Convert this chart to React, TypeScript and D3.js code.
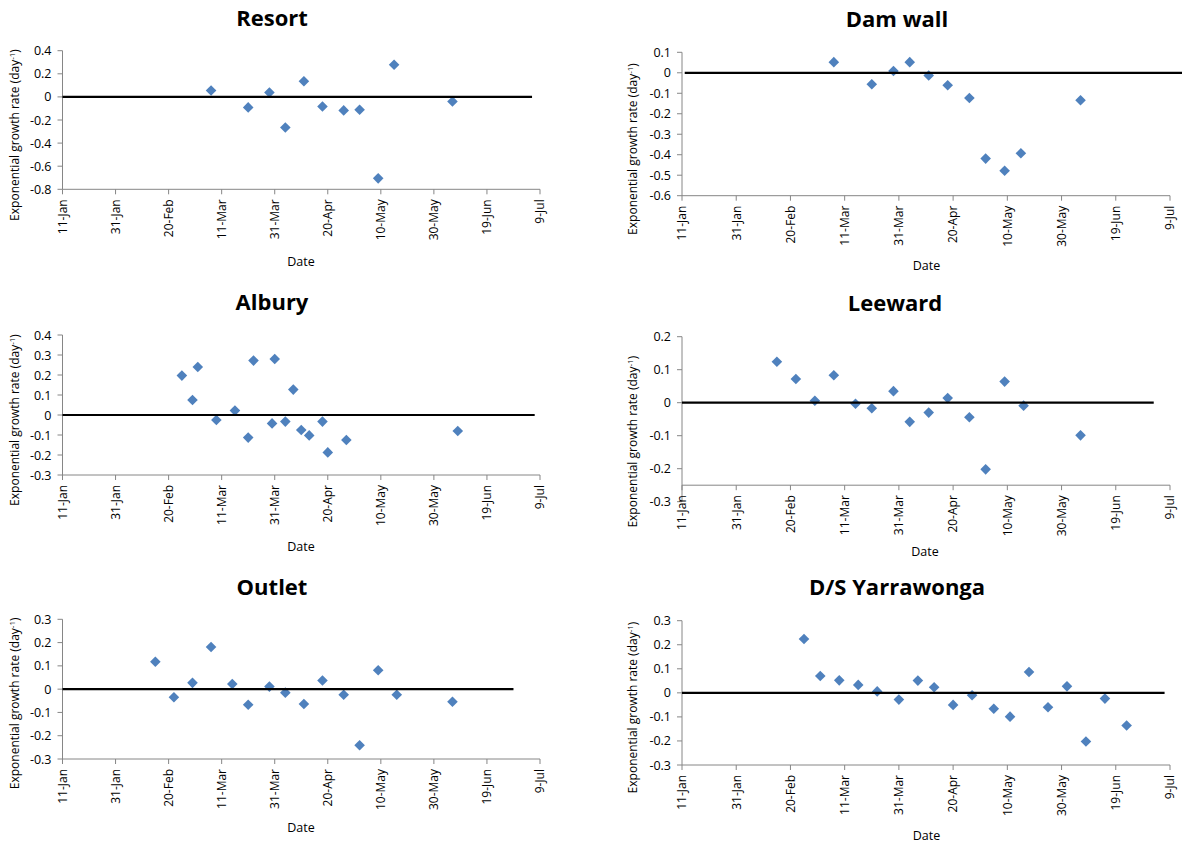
import React from "react";
import * as d3 from "d3";

const parse = d3.utcParse("%Y-%m-%d");

// Shared date axis
const xDomain = ["2008-01-11", "2008-07-09"];
const xTickDates = ["2008-01-11", "2008-01-31", "2008-02-20", "2008-03-11", "2008-03-31", "2008-04-20", "2008-05-10", "2008-05-30", "2008-06-19", "2008-07-09"];
const xTickLabels = ["11-Jan", "31-Jan", "20-Feb", "11-Mar", "31-Mar", "20-Apr", "10-May", "30-May", "19-Jun", "9-Jul"];

// Resort
const resortDates = ["2008-03-07", "2008-03-21", "2008-03-29", "2008-04-04", "2008-04-11", "2008-04-18", "2008-04-26", "2008-05-02", "2008-05-09", "2008-05-15", "2008-06-06"];
const resortRates = [0.055, -0.091, 0.038, -0.265, 0.135, -0.083, -0.117, -0.111, -0.705, 0.278, -0.04];
const resortYTicks = [0.4, 0.2, 0, -0.2, -0.4, -0.6, -0.8];
const resortZeroLine = ["2008-01-11", "2008-07-06"];

// Dam wall
const damDates = ["2008-03-07", "2008-03-21", "2008-03-29", "2008-04-04", "2008-04-11", "2008-04-18", "2008-04-26", "2008-05-02", "2008-05-09", "2008-05-15", "2008-06-06"];
const damRates = [0.052, -0.056, 0.009, 0.052, -0.013, -0.061, -0.123, -0.419, -0.478, -0.393, -0.134];
const damYTicks = [0.1, 0, -0.1, -0.2, -0.3, -0.4, -0.5, -0.6];
const damZeroLine = ["2008-01-12", "2008-07-16"];

// Albury
const alburyDates = ["2008-02-25", "2008-02-29", "2008-03-02", "2008-03-09", "2008-03-16", "2008-03-21", "2008-03-23", "2008-03-30", "2008-03-31", "2008-04-04", "2008-04-07", "2008-04-10", "2008-04-13", "2008-04-18", "2008-04-20", "2008-04-27", "2008-06-08"];
const alburyRates = [0.197, 0.075, 0.24, -0.025, 0.022, -0.113, 0.272, -0.042, 0.28, -0.033, 0.127, -0.075, -0.102, -0.033, -0.187, -0.125, -0.08];
const alburyYTicks = [0.4, 0.3, 0.2, 0.1, 0, -0.1, -0.2, -0.3];
const alburyZeroLine = ["2008-01-11", "2008-07-07"];

// Leeward
const leewardDates = ["2008-02-15", "2008-02-22", "2008-02-29", "2008-03-07", "2008-03-15", "2008-03-21", "2008-03-29", "2008-04-04", "2008-04-11", "2008-04-18", "2008-04-26", "2008-05-02", "2008-05-09", "2008-05-16", "2008-06-06"];
const leewardRates = [0.124, 0.072, 0.006, 0.083, -0.003, -0.017, 0.035, -0.058, -0.03, 0.014, -0.044, -0.202, 0.064, -0.009, -0.099];
const leewardYTicks = [0.2, 0.1, 0, -0.1, -0.2, -0.3];
const leewardZeroLine = ["2008-01-11", "2008-07-03"];

// Outlet
const outletDates = ["2008-02-15", "2008-02-22", "2008-02-29", "2008-03-07", "2008-03-15", "2008-03-21", "2008-03-29", "2008-04-04", "2008-04-11", "2008-04-18", "2008-04-26", "2008-05-02", "2008-05-09", "2008-05-16", "2008-06-06"];
const outletRates = [0.118, -0.035, 0.027, 0.181, 0.022, -0.067, 0.011, -0.015, -0.064, 0.037, -0.024, -0.241, 0.081, -0.024, -0.054];
const outletYTicks = [0.3, 0.2, 0.1, 0, -0.1, -0.2, -0.3];
const outletZeroLine = ["2008-01-11", "2008-06-29"];

// D/S Yarrawonga
const dsDates = ["2008-02-25", "2008-03-02", "2008-03-09", "2008-03-16", "2008-03-23", "2008-03-31", "2008-04-07", "2008-04-13", "2008-04-20", "2008-04-27", "2008-05-05", "2008-05-11", "2008-05-18", "2008-05-25", "2008-06-01", "2008-06-08", "2008-06-15", "2008-06-23"];
const dsRates = [0.224, 0.07, 0.052, 0.033, 0.006, -0.028, 0.051, 0.023, -0.05, -0.01, -0.066, -0.099, 0.087, -0.06, 0.027, -0.202, -0.024, -0.136];
const dsYTicks = [0.3, 0.2, 0.1, 0, -0.1, -0.2, -0.3];
const dsZeroLine = ["2008-01-11", "2008-07-07"];

const FONT = "'Open Sans', Lato, sans-serif";
const AXIS_COLOR = "#868686";
const MARKER_COLOR = "#4F81BD";

type PanelSpec = {
  title: string;
  dates: string[];
  rates: number[];
  yTicks: number[];
  zeroLine: string[];
  cross: number;
  layout: {
    x0: number; x1: number; yTop: number; yBottom: number;
    titleX: number; titleY: number; yTitleX: number; yTitleY: number; dateX: number; dateY: number;
  };
};

const panels: PanelSpec[] = [
  {
    title: "Resort", dates: resortDates, rates: resortRates, yTicks: resortYTicks, zeroLine: resortZeroLine, cross: -0.8,
    layout: { x0: 62.5, x1: 540, yTop: 50.7, yBottom: 189.3, titleX: 272, titleY: 26, yTitleX: 15, yTitleY: 135, dateX: 301, dateY: 266 },
  },
  {
    title: "Dam wall", dates: damDates, rates: damRates, yTicks: damYTicks, zeroLine: damZeroLine, cross: -0.6,
    layout: { x0: 682, x1: 1170, yTop: 52.3, yBottom: 195.7, titleX: 897, titleY: 26.5, yTitleX: 633, yTitleY: 149, dateX: 926.5, dateY: 270 },
  },
  {
    title: "Albury", dates: alburyDates, rates: alburyRates, yTicks: alburyYTicks, zeroLine: alburyZeroLine, cross: -0.3,
    layout: { x0: 62.5, x1: 540, yTop: 335, yBottom: 475, titleX: 272, titleY: 310, yTitleX: 15, yTitleY: 420, dateX: 301, dateY: 551 },
  },
  {
    title: "Leeward", dates: leewardDates, rates: leewardRates, yTicks: leewardYTicks, zeroLine: leewardZeroLine, cross: -0.25,
    layout: { x0: 682, x1: 1170, yTop: 336.7, yBottom: 501.7, titleX: 895, titleY: 311, yTitleX: 633, yTitleY: 441.7, dateX: 925, dateY: 556 },
  },
  {
    title: "Outlet", dates: outletDates, rates: outletRates, yTicks: outletYTicks, zeroLine: outletZeroLine, cross: -0.3,
    layout: { x0: 62.5, x1: 540, yTop: 619.3, yBottom: 759, titleX: 272, titleY: 595, yTitleX: 15, yTitleY: 703.3, dateX: 301, dateY: 831.5 },
  },
  {
    title: "D/S Yarrawonga", dates: dsDates, rates: dsRates, yTicks: dsYTicks, zeroLine: dsZeroLine, cross: -0.3,
    layout: { x0: 682, x1: 1170, yTop: 620.7, yBottom: 765, titleX: 897, titleY: 595, yTitleX: 633, yTitleY: 707.5, dateX: 926.5, dateY: 840 },
  },
];

const fmt = (v: number) => (Math.abs(v) < 1e-9 ? "0" : String(+v.toFixed(2)));

const diamond = (cx: number, cy: number, r: number) =>
  `M${cx},${cy - r}L${cx + r},${cy}L${cx},${cy + r}L${cx - r},${cy}Z`;

function Panel({ p }: { p: PanelSpec }) {
  const L = p.layout;
  const yMin = d3.min(p.yTicks) as number;
  const yMax = d3.max(p.yTicks) as number;
  const x = d3.scaleUtc().domain(xDomain.map((d) => parse(d) as Date)).range([L.x0, L.x1]);
  const y = d3.scaleLinear().domain([yMin, yMax]).range([L.yBottom, L.yTop]);
  const axisY = y(p.cross);
  const line = d3
    .line<string>()
    .x((d) => x(parse(d) as Date))
    .y(() => y(0));

  return (
    <g>
      <text x={L.titleX} y={L.titleY} textAnchor="middle" fontFamily={FONT} fontWeight="bold" fontSize={22} fill="#000">
        {p.title}
      </text>
      {/* y axis */}
      <line x1={L.x0} x2={L.x0} y1={y(yMax)} y2={y(yMin)} stroke={AXIS_COLOR} strokeWidth={1} />
      {p.yTicks.map((t) => (
        <g key={t}>
          <line x1={L.x0 - 5} x2={L.x0} y1={y(t)} y2={y(t)} stroke={AXIS_COLOR} strokeWidth={1} />
          <text x={L.x0 - 11} y={y(t)} dy="0.36em" textAnchor="end" fontFamily={FONT} fontSize={12.5} fill="#000">
            {fmt(t)}
          </text>
        </g>
      ))}
      {/* x axis */}
      <line x1={L.x0} x2={L.x1} y1={axisY} y2={axisY} stroke={AXIS_COLOR} strokeWidth={1} />
      {xTickDates.map((d, i) => {
        const tx = x(parse(d) as Date);
        return (
          <g key={d}>
            <line x1={tx} x2={tx} y1={axisY} y2={axisY + 5} stroke={AXIS_COLOR} strokeWidth={1} />
            <text
              transform={`translate(${tx},${axisY + 10}) rotate(-90)`}
              dy="0.36em"
              textAnchor="end"
              fontFamily={FONT}
              fontSize={12}
              fill="#000"
            >
              {xTickLabels[i]}
            </text>
          </g>
        );
      })}
      {/* axis titles */}
      <text x={L.dateX} y={L.dateY} textAnchor="middle" fontFamily={FONT} fontSize={12.5} fill="#000">
        Date
      </text>
      <text
        transform={`translate(${L.yTitleX},${L.yTitleY}) rotate(-90)`}
        dy="0.35em"
        textAnchor="middle"
        fontFamily={FONT}
        fontSize={12}
        fill="#000"
      >
        Exponential growth rate (day
        <tspan fontSize={8} dy={-4}>-1</tspan>
        <tspan dy={4}>)</tspan>
      </text>
      {/* markers */}
      {p.dates.map((d, i) => (
        <path key={i} d={diamond(x(parse(d) as Date), y(p.rates[i]), 5.3)} fill={MARKER_COLOR} />
      ))}
      {/* zero reference line */}
      <path d={line(p.zeroLine) || ""} stroke="#000" strokeWidth={2.2} fill="none" />
    </g>
  );
}

export default function App() {
  return (
    <svg
      width={1182}
      height={845}
      viewBox="0 0 1182 845"
      style={{ position: "absolute", left: 0, top: 0, background: "#fff" }}
    >
      <rect x={0} y={0} width={1182} height={845} fill="#fff" />
      {panels.map((p) => (
        <Panel key={p.title} p={p} />
      ))}
    </svg>
  );
}
